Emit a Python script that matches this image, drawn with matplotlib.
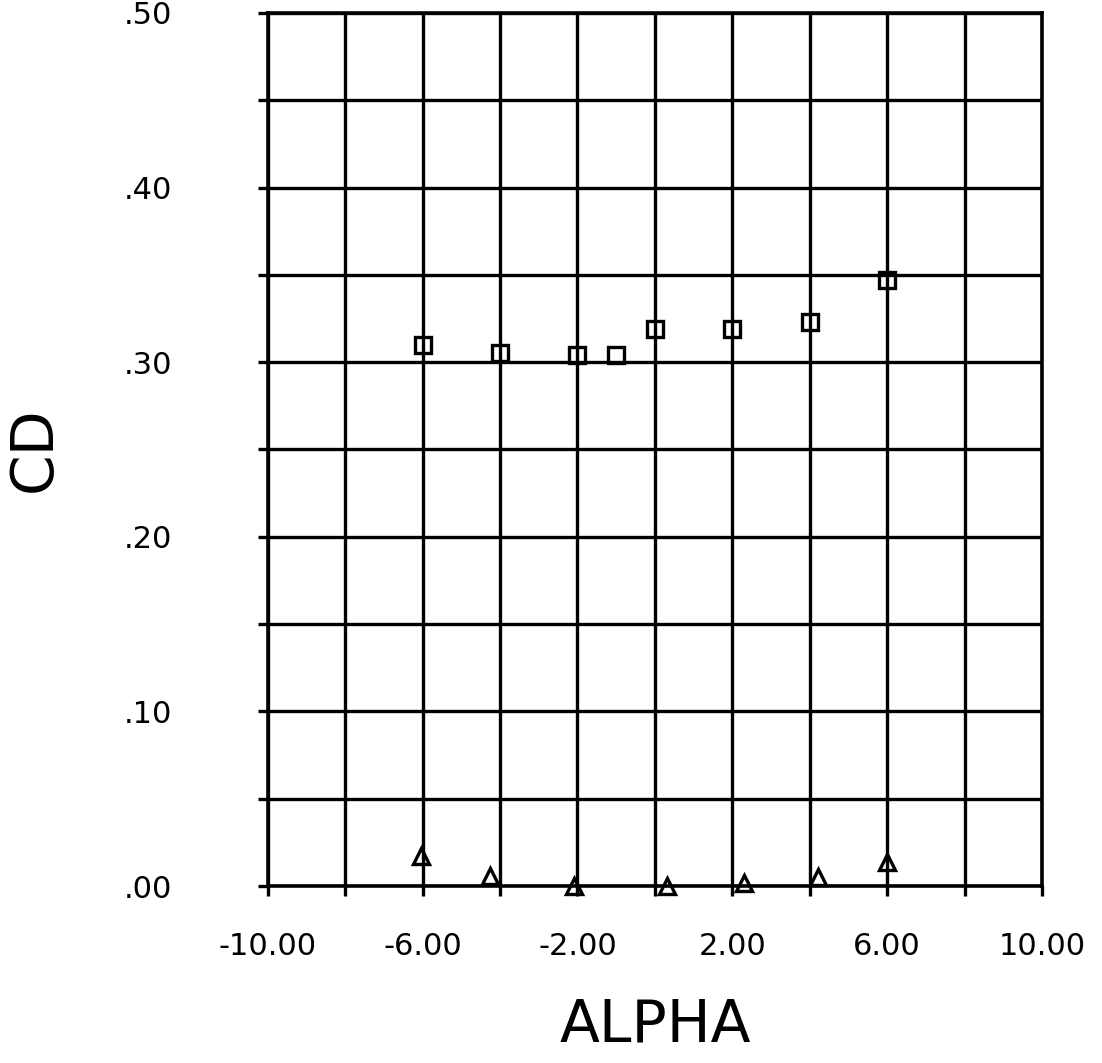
import matplotlib
matplotlib.use("Agg")
import matplotlib.pyplot as plt

# datos (CD vs ALPHA)
alpha_sq = [-6.0, -4.0, -2.0, -1.0, 0.0, 2.0, 4.0, 6.0]
cd_sq = [0.310, 0.305, 0.304, 0.304, 0.319, 0.319, 0.323, 0.347]

alpha_tri = [-6.05, -4.25, -2.1, 0.3, 2.3, 4.2, 6.0]
cd_tri = [0.017, 0.006, 0.000, 0.000, 0.002, 0.005, 0.014]

x_ticks = [-10, -8, -6, -4, -2, 0, 2, 4, 6, 8, 10]
x_labels = ['-10.00', '', '-6.00', '', '-2.00', '', '2.00', '', '6.00', '', '10.00']
y_ticks = [0.0, 0.05, 0.10, 0.15, 0.20, 0.25, 0.30, 0.35, 0.40, 0.45, 0.50]
y_labels = ['.00', '', '.10', '', '.20', '', '.30', '', '.40', '', '.50']

fig = plt.figure(figsize=(11.02, 10.63), dpi=100)
ax = fig.add_axes([0.243, 0.1665, 0.7026, 0.8213])

ax.plot(alpha_sq, cd_sq, 's', ms=11, mfc='none', mec='black', mew=2.4,
        clip_on=False, zorder=3)
ax.plot(alpha_tri, cd_tri, '^', ms=12, mfc='none', mec='black', mew=2.4,
        clip_on=False, zorder=3)

ax.set_xlim(-10, 10)
ax.set_ylim(0, 0.5)
ax.set_xticks(x_ticks)
ax.set_xticklabels(x_labels)
ax.set_yticks(y_ticks)
ax.set_yticklabels(y_labels)

ax.grid(True, color='black', linewidth=2.4)
for s in ax.spines.values():
    s.set_linewidth(2.6)
ax.tick_params(axis='both', direction='out', length=7, width=2.4,
               labelsize=22)
ax.tick_params(axis='x', pad=26)
ax.tick_params(axis='y', pad=62)

ax.set_xlabel('ALPHA', fontsize=42, labelpad=26)
ax.set_ylabel('CD', fontsize=42, labelpad=44)

fig.savefig('out.png', dpi=100)
